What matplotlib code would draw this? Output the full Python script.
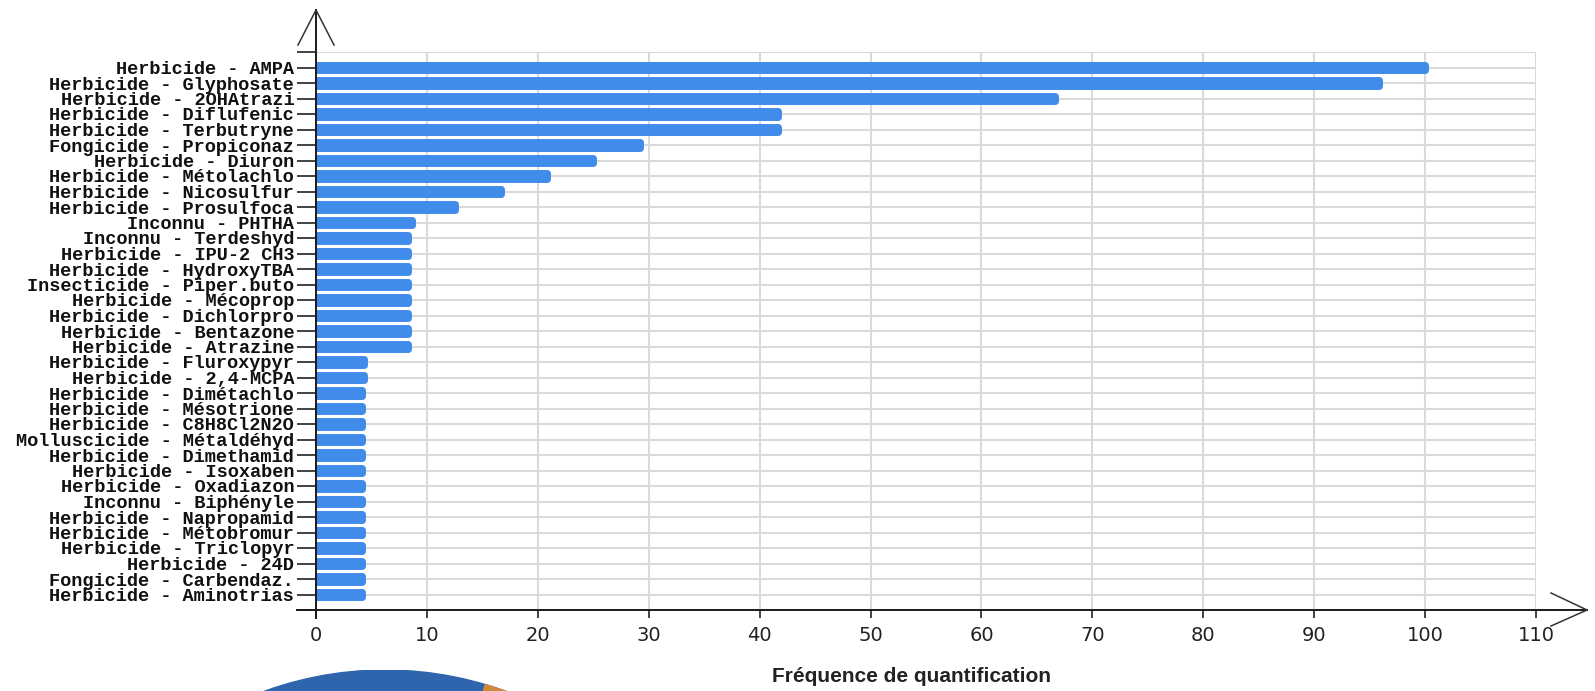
"""Horizontal bar chart of quantification frequency per substance."""

import matplotlib

matplotlib.use("Agg")
from matplotlib import pyplot as plt
from matplotlib.patches import Circle, Wedge

labels = [
    "Herbicide - AMPA", "Herbicide - Glyphosate", "Herbicide - 2OHAtrazi",
    "Herbicide - Diflufenic", "Herbicide - Terbutryne", "Fongicide - Propiconaz",
    "Herbicide - Diuron", "Herbicide - Métolachlo", "Herbicide - Nicosulfur",
    "Herbicide - Prosulfoca", "Inconnu - PHTHA", "Inconnu - Terdeshyd",
    "Herbicide - IPU-2 CH3", "Herbicide - HydroxyTBA", "Insecticide - Piper.buto",
    "Herbicide - Mécoprop", "Herbicide - Dichlorpro", "Herbicide - Bentazone",
    "Herbicide - Atrazine", "Herbicide - Fluroxypyr", "Herbicide - 2,4-MCPA",
    "Herbicide - Dimétachlo", "Herbicide - Mésotrione", "Herbicide - C8H8Cl2N2O",
    "Molluscicide - Métaldéhyd", "Herbicide - Dimethamid", "Herbicide - Isoxaben",
    "Herbicide - Oxadiazon", "Inconnu - Biphényle", "Herbicide - Napropamid",
    "Herbicide - Métobromur", "Herbicide - Triclopyr", "Herbicide - 24D",
    "Fongicide - Carbendaz.", "Herbicide - Aminotrias",
]
frequencies = [
    100.0, 95.83, 66.67, 41.67, 41.67, 29.17, 25.0, 20.83, 16.67, 12.5,
    8.7, 8.33, 8.33, 8.33, 8.33, 8.33, 8.33, 8.33, 8.33, 4.35, 4.35,
    4.17, 4.17, 4.17, 4.17, 4.17, 4.17, 4.17, 4.17, 4.17, 4.17, 4.17, 4.17, 4.17, 4.17,
]
x_ticks = list(range(0, 111, 10))
x_label = "Fréquence de quantification"

W, H = 1595, 691
AX_L, AX_R, AX_T, AX_B = 316, 1536, 52, 610  # axes box in pixels (y from top)
AX_W, AX_H = AX_R - AX_L, AX_B - AX_T
BAR_COLOR = "#418BEB"
GRID_COLOR = "#DADADA"


def px(dx, dy):
    """Pixel offset from the axes origin (x right, y up) -> axes fraction."""
    return dx / AX_W, dy / AX_H


fig = plt.figure(figsize=(W / 100, H / 100), dpi=100)
ax = fig.add_axes([AX_L / W, 1 - AX_B / H, AX_W / W, AX_H / H])

n = len(labels)
ypos = list(range(n))
ax.barh(
    ypos,
    frequencies,
    height=0.33,
    color=BAR_COLOR,
    edgecolor=BAR_COLOR,
    linewidth=5.0,
    joinstyle="round",
    zorder=2,
)

ax.set_xlim(0, 110)
ax.set_ylim(n, -1)
ax.set_xticks(x_ticks)
ax.set_xticklabels([str(t) for t in x_ticks], fontsize=14, family="DejaVu Sans", color="#222222")
ax.set_yticks(list(range(-1, n + 1)))
ax.set_yticklabels([""] + labels + [""], fontsize=13.4, family="Liberation Mono",
                   fontweight="bold", color="#111111")
ax.tick_params(axis="y", length=13.7, width=1.2, color="#222222", pad=2)
ax.tick_params(axis="x", length=5.8, width=1.2, color="#222222", pad=6)

ax.grid(True, color=GRID_COLOR, linewidth=1.5, zorder=0)
ax.set_axisbelow(True)
for s in ax.spines.values():
    s.set_visible(False)

# axis lines with open arrow heads
line_kw = dict(transform=ax.transAxes, clip_on=False, color="#1A1A1A", linewidth=1.4, zorder=5)
arm_kw = dict(transform=ax.transAxes, clip_on=False, color="#333333", linewidth=1.1, zorder=5)
y_top = px(0, AX_B - 10)[1]
ax.plot([0, 0], [px(0, -8)[1], y_top], **line_kw)
ax.plot([px(-18, 0)[0], 0, px(18, 0)[0]], [px(0, AX_B - 45)[1], y_top, px(0, AX_B - 45)[1]], **arm_kw)
x_end = px(1587 - AX_L, 0)[0]
ax.plot([px(-19, 0)[0], x_end], [0, 0], **line_kw)
ax.plot([px(1551 - AX_L, 0)[0], x_end, px(1551 - AX_L, 0)[0]], [px(0, 17)[1], 0, px(0, -16)[1]], **arm_kw)

ax.set_xlabel(x_label, fontsize=15, family="Liberation Sans", fontweight="bold", color="#222222")
ax.xaxis.set_label_coords(*px(911 - AX_L, AX_B - 677))
ax.xaxis.label.set_va("center")

# fragment of the next chart (pie) peeking in at the bottom
R, CX, CY = 353, 385, -332
pie_ax = fig.add_axes([(CX - R) / W, (CY - R) / H, 2 * R / W, 2 * R / H])
pie_ax.set_xlim(-1, 1)
pie_ax.set_ylim(-1, 1)
pie_ax.set_aspect("equal")
pie_ax.axis("off")
pie_ax.add_patch(Circle((0, 0), 1, color="#2F65AD"))
pie_ax.add_patch(Wedge((0, 0), 1, 55, 73.5, color="#D08A3A"))

fig.savefig("out.png", dpi=100)
plt.close(fig)
